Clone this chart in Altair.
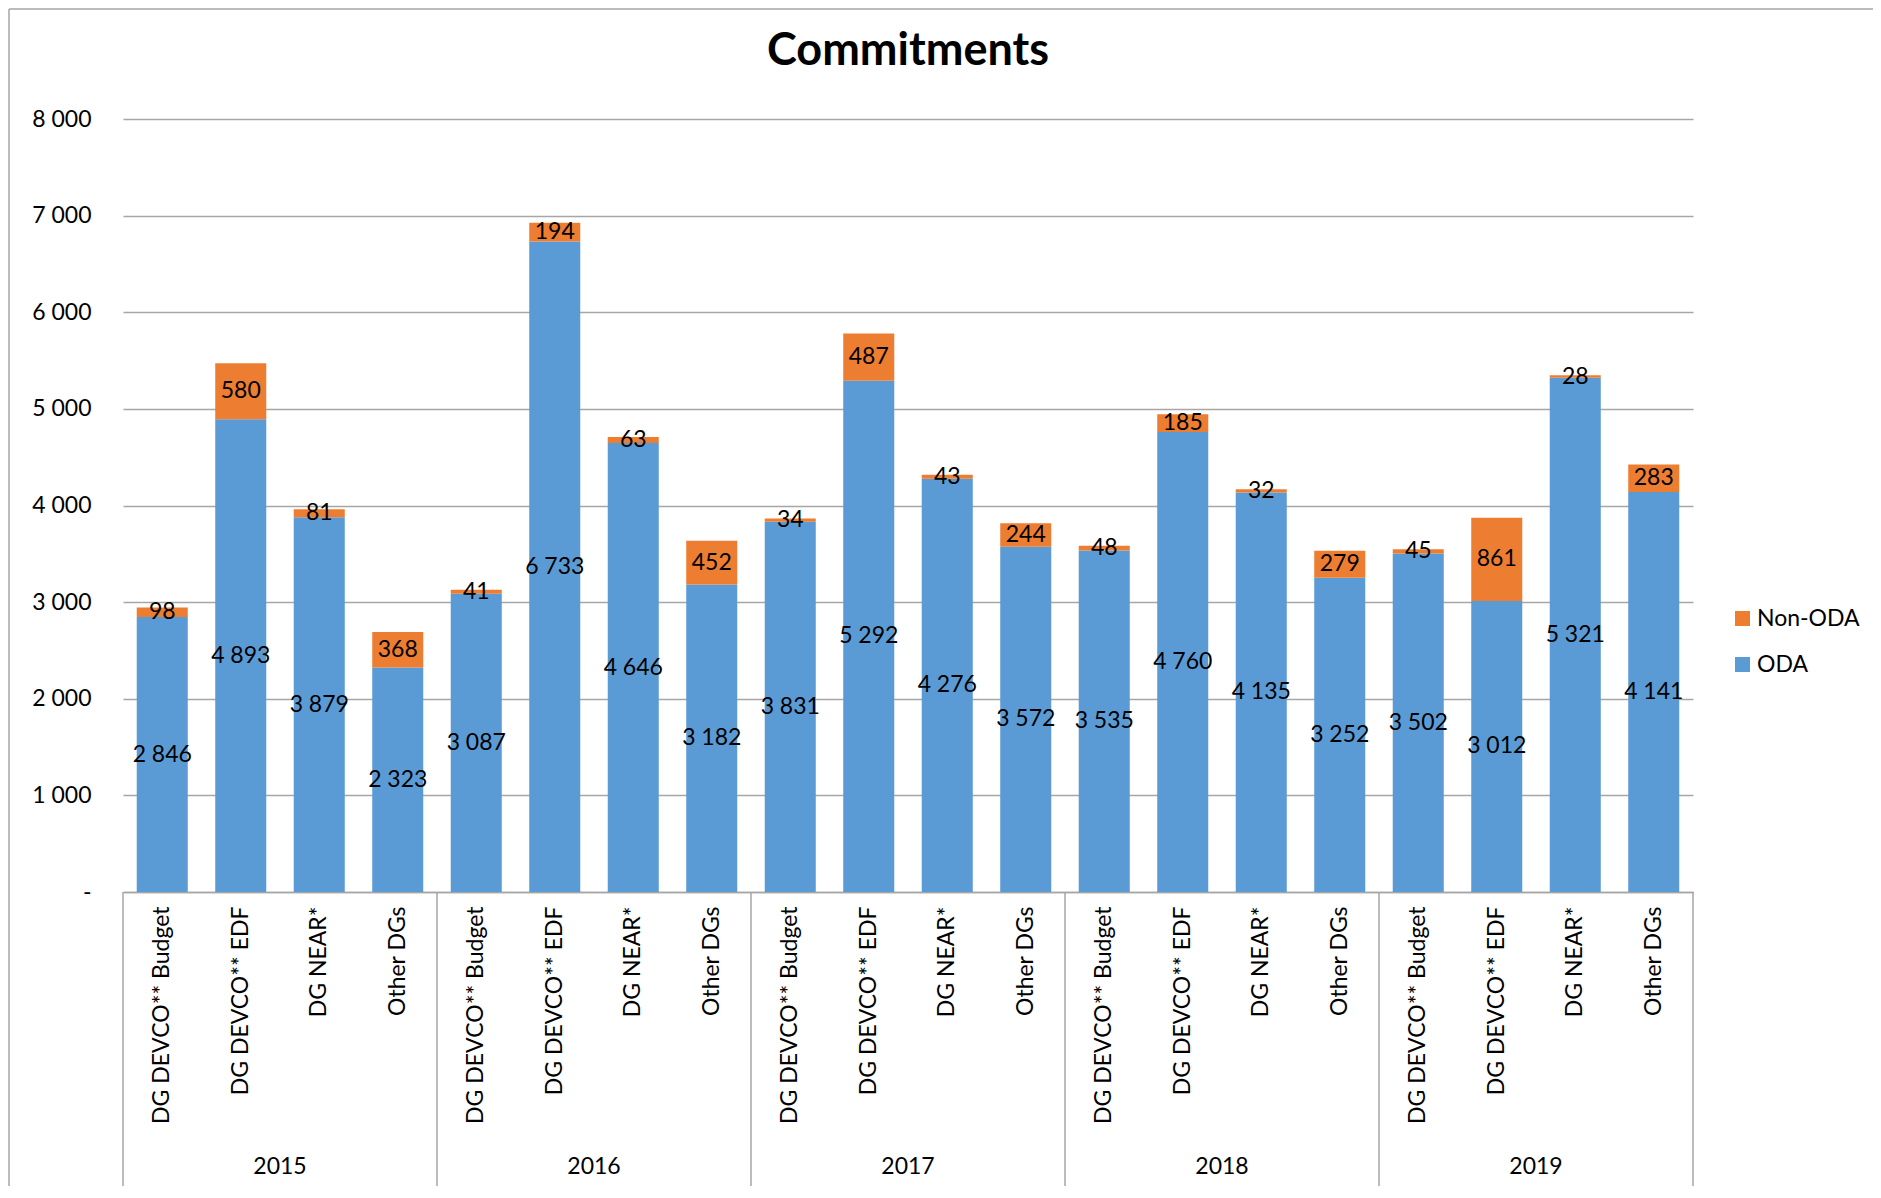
import altair as alt
import pandas as pd

years = ["2015", "2016", "2017", "2018", "2019"]
categories = ["DG DEVCO** Budget", "DG DEVCO** EDF", "DG NEAR*", "Other DGs"]
oda = [2846, 4893, 3879, 2323,
       3087, 6733, 4646, 3182,
       3831, 5292, 4276, 3572,
       3535, 4760, 4135, 3252,
       3502, 3012, 5321, 4141]
non_oda = [98, 580, 81, 368,
           41, 194, 63, 452,
           34, 487, 43, 244,
           48, 185, 32, 279,
           45, 861, 28, 283]
series = ["ODA", "Non-ODA"]
colors = ["#ED7D31", "#5B9BD5"]  # Non-ODA, ODA
y_ticks = [0, 1000, 2000, 3000, 4000, 5000, 6000, 7000, 8000]

rows = []
keys = []
i = 0
for y in years:
    for c in categories:
        k = f"{y}|{c}"
        keys.append(k)
        rows.append({"key": k, "year": y, "cat": c, "series": "ODA", "value": oda[i], "order": 0})
        rows.append({"key": k, "year": y, "cat": c, "series": "Non-ODA", "value": non_oda[i], "order": 1})
        i += 1
df = pd.DataFrame(rows)
ydf = pd.DataFrame({"year": years})
one = pd.DataFrame({"a": [0]})

W, H = 1570, 773
FONT = "Lato"
FS = 23
GRID = "#a6a6a6"

xscale = alt.Scale(domain=keys, paddingInner=0.35, paddingOuter=0.175)
yscale = alt.Scale(domain=[0, 8000], nice=False)

yaxis = alt.Axis(title=None, values=y_ticks,
                 labelExpr="datum.value == 0 ? '-\u00a0\u00a0' : replace(format(datum.value, ','), ',', ' ')",
                 grid=True, gridColor=GRID, gridWidth=1.3, domain=False, ticks=False,
                 labelPadding=32, labelFontSize=FS, labelColor="black", labelFont=FONT)

bars = alt.Chart(df).mark_bar().encode(
    x=alt.X("key:N", scale=xscale, sort=keys,
            axis=alt.Axis(title=None, labelExpr="split(datum.label, '|')[1]",
                          labelAngle=-90, labelAlign="right", labelBaseline="middle",
                          labelPadding=14, labelFontSize=FS, labelLimit=0, ticks=False,
                          domainColor=GRID, domainWidth=1.5, grid=False, labelColor="black",
                          labelFont=FONT)),
    y=alt.Y("value:Q", stack="zero", scale=yscale, axis=yaxis),
    color=alt.Color("series:N", scale=alt.Scale(domain=["Non-ODA", "ODA"], range=colors),
                    legend=alt.Legend(title=None, orient="none", legendX=1608, legendY=488,
                                      symbolType="square", symbolSize=225, labelFontSize=FS,
                                      labelFont=FONT, rowPadding=22, labelOffset=3,
                                      symbolStrokeWidth=0, padding=0, labelColor="black")),
    order=alt.Order("order:Q", sort="ascending"),
)

labels = alt.Chart(df).transform_stack(
    stack="value", groupby=["key"], as_=["v0", "v1"],
    sort=[alt.SortField("order", "ascending")]
).transform_calculate(
    mid="(datum.v0 + datum.v1) / 2",
    lab="replace(format(datum.value, ','), ',', ' ')"
).mark_text(fontSize=FS, font=FONT, color="black", align="center", baseline="middle").encode(
    x=alt.X("key:N", scale=xscale, sort=keys, axis=None),
    y=alt.Y("mid:Q", scale=yscale, axis=yaxis),
    text="lab:N",
)

yscale_years = alt.Scale(domain=years, paddingInner=0, paddingOuter=0)

year_text = alt.Chart(ydf).mark_text(fontSize=FS, font=FONT, color="black",
                                     align="center", baseline="middle").encode(
    x=alt.X("year:N", scale=yscale_years, axis=None),
    y=alt.value(1048),
    text="year:N",
)

sep_start = alt.Chart(ydf).mark_rule(color=GRID, strokeWidth=1.5).encode(
    x=alt.X("year:N", scale=yscale_years, axis=None, bandPosition=0),
    y=alt.value(H),
    y2=alt.value(1068),
)

sep_end = alt.Chart(ydf).transform_filter(
    alt.datum.year == years[-1]
).mark_rule(color=GRID, strokeWidth=1.5).encode(
    x=alt.X("year:N", scale=yscale_years, axis=None, bandPosition=1),
    y=alt.value(H),
    y2=alt.value(1068),
)

frame_left = alt.Chart(one).mark_rule(color=GRID, strokeWidth=1.5).encode(
    x=alt.value(-114), y=alt.value(-110), y2=alt.value(1070))
frame_top = alt.Chart(one).mark_rule(color=GRID, strokeWidth=1.5).encode(
    x=alt.value(-114), x2=alt.value(W + 180), y=alt.value(-110))

chart = alt.layer(
    bars, labels, frame_left, frame_top, year_text, sep_start, sep_end
).resolve_scale(x="independent").properties(
    width=W, height=H,
    title=alt.TitleParams("Commitments", fontSize=45, fontWeight="bold", font=FONT,
                          anchor="middle", frame="group", baseline="alphabetic",
                          offset=-58, dy=44, color="black"),
    autosize=alt.AutoSizeParams(type="none"),
    padding={"left": 115, "top": 111, "right": 180, "bottom": 294},
).configure(font=FONT).configure_view(stroke=None)

chart.save("out.html", embed_options={"renderer": "svg", "actions": False})
